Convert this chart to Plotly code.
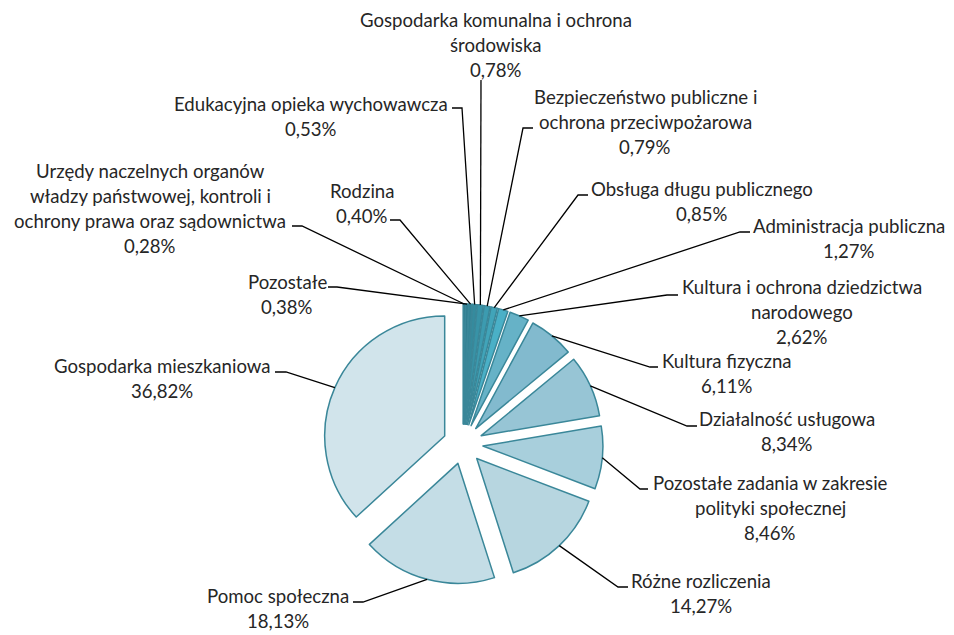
import math
import plotly.graph_objects as go

# ---- data (ascending order, clockwise from 12 o'clock) ----
categories = [
    "Urzędy naczelnych organów władzy państwowej, kontroli i ochrony prawa oraz sądownictwa",
    "Pozostałe",
    "Rodzina",
    "Edukacyjna opieka wychowawcza",
    "Gospodarka komunalna i ochrona środowiska",
    "Bezpieczeństwo publiczne i ochrona przeciwpożarowa",
    "Obsługa długu publicznego",
    "Administracja publiczna",
    "Kultura i ochrona dziedzictwa narodowego",
    "Kultura fizyczna",
    "Działalność usługowa",
    "Pozostałe zadania w zakresie polityki społecznej",
    "Różne rozliczenia",
    "Pomoc społeczna",
    "Gospodarka mieszkaniowa",
]
values = [0.28, 0.38, 0.40, 0.53, 0.78, 0.79, 0.85, 1.27, 2.62, 6.11, 8.34, 8.46, 14.27, 18.13, 36.82]
label_lines = [
    ["Urzędy naczelnych organów", "władzy państwowej, kontroli i", "ochrony prawa oraz sądownictwa"],
    ["Pozostałe"],
    ["Rodzina"],
    ["Edukacyjna opieka wychowawcza"],
    ["Gospodarka komunalna i ochrona", "środowiska"],
    ["Bezpieczeństwo publiczne i", "ochrona przeciwpożarowa"],
    ["Obsługa długu publicznego"],
    ["Administracja publiczna"],
    ["Kultura i ochrona dziedzictwa", "narodowego"],
    ["Kultura fizyczna"],
    ["Działalność usługowa"],
    ["Pozostałe zadania w zakresie", "polityki społecznej"],
    ["Różne rozliczenia"],
    ["Pomoc społeczna"],
    ["Gospodarka mieszkaniowa"],
]
colors = [
    "#2d7687", "#307d8f", "#328496", "#358b9e", "#3893a7", "#3c9bb0", "#41a4b9", "#4ab0c7",
    "#66b2c7", "#82bace", "#97c5d5", "#a8cfdc", "#b7d6e0", "#c4dde6", "#d1e4eb",
]

# ---- layout (pixels of the 954x635 window; page body has an 8px margin) ----
OFF = 8
WIN_W, WIN_H = 954, 635
W, H = WIN_W - OFF, WIN_H - OFF
CX, CY = 463, 444          # pie centre
BOX = 140                  # half size of pie box  (r = BOX / (1 + pull))
PULL = 1 / 6
R = BOX / (1 + PULL)
D = R * PULL

# label placement: (centre x, first line y, text-side point, elbow point)
label_pos = [
    (150, 172, (292, 226), (302, 226)),
    (287, 283, (328, 287), (337, 287)),
    (362, 192, (390, 220), (400, 220)),
    (311, 105, (452, 108), (462, 108)),
    (496, 21, (481, 80), (481, 80)),
    (645, 98, (533, 128), (523, 128)),
    (702, 190, (588, 195), (578, 195)),
    (849, 227, (750, 232), (740, 232)),
    (802, 288, (678, 295), (667, 295)),
    (727, 362, (658, 367), (650, 367)),
    (787, 420, (697, 426), (687, 426)),
    (770, 484, (648, 489), (640, 489)),
    (701, 582, (628, 587), (618, 587)),
    (278, 597, (353, 602), (363, 602)),
    (162, 367, (275, 372), (286, 372)),
]
LINE_H = 25
TEXT_DY = -1


def px(x):
    return (x - OFF) / W


def py(y):
    return 1 - (y - OFF) / H


fig = go.Figure(go.Pie(
    values=values,
    labels=categories,
    sort=False,
    direction="clockwise",
    rotation=0,
    pull=[PULL] * len(values),
    marker=dict(colors=colors, line=dict(color="#3a8799", width=1.5)),
    textinfo="none",
    hoverinfo="label+percent",
    showlegend=False,
    domain=dict(x=[px(CX - BOX), px(CX + BOX)], y=[py(CY + BOX), py(CY - BOX)]),
))

annotations = []
shapes = []
total = sum(values)
cum = 0.0
for val, lines, (lx, ly, tp, ep) in zip(values, label_lines, label_pos):
    mid = (cum + val / 2) / total * 2 * math.pi
    cum += val
    ax = CX + (R + D) * math.sin(mid)
    ay = CY - (R + D) * math.cos(mid)
    pct = f"{val:.2f}".replace(".", ",") + "%"
    for i, t in enumerate(lines + [pct]):
        annotations.append(dict(
            x=px(lx), y=py(ly + i * LINE_H + TEXT_DY), xref="paper", yref="paper",
            text=t, showarrow=False, xanchor="center", yanchor="middle",
            font=dict(family="Lato", size=18.6, color="#262626"),
        ))
    path = f"M {px(tp[0])} {py(tp[1])} L {px(ep[0])} {py(ep[1])} L {px(ax)} {py(ay)}"
    shapes.append(dict(type="path", path=path, xref="paper", yref="paper",
                       line=dict(color="#000000", width=1.3)))

fig.update_layout(
    width=W, height=H,
    margin=dict(l=0, r=0, t=0, b=0),
    paper_bgcolor="white",
    plot_bgcolor="white",
    annotations=annotations,
    shapes=shapes,
)

fig.write_html("out.html")
